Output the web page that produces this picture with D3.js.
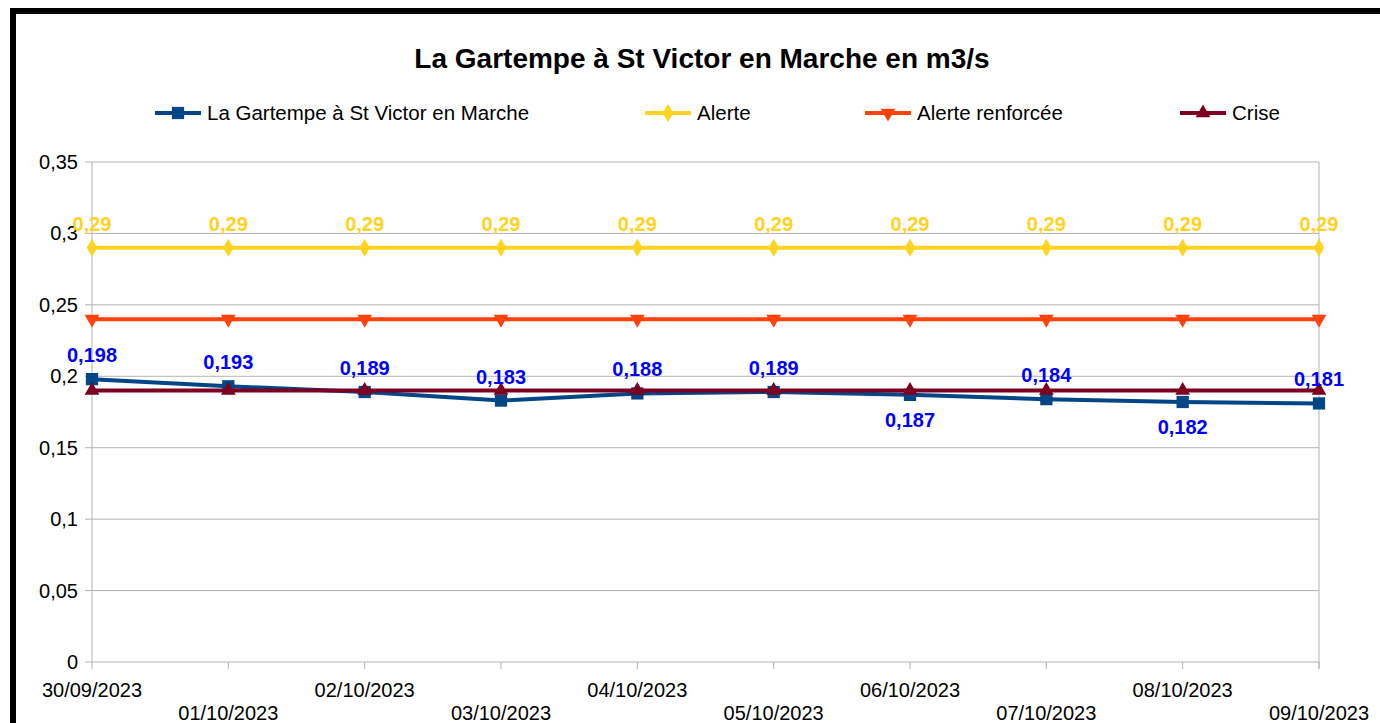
<!DOCTYPE html>
<html>
<head>
<meta charset="utf-8">
<script src="https://cdn.jsdelivr.net/npm/d3@7"></script>
<style>
  body { margin: 0; background: #fff; }
  text { font-family: "Liberation Sans", Arial, sans-serif; }
</style>
</head>
<body>
<div id="chart"></div>
<script>
// chart size
const width = 1380;
const height = 723;

// data
const dates = ["30/09/2023", "01/10/2023", "02/10/2023", "03/10/2023", "04/10/2023",
               "05/10/2023", "06/10/2023", "07/10/2023", "08/10/2023", "09/10/2023"];
const gartempe = [0.198, 0.193, 0.189, 0.183, 0.188, 0.189, 0.187, 0.184, 0.182, 0.181];
const alerte = [0.29, 0.29, 0.29, 0.29, 0.29, 0.29, 0.29, 0.29, 0.29, 0.29];
const alerteRenf = [0.24, 0.24, 0.24, 0.24, 0.24, 0.24, 0.24, 0.24, 0.24, 0.24];
const crise = [0.19, 0.19, 0.19, 0.19, 0.19, 0.19, 0.19, 0.19, 0.19, 0.19];
const yTicks = [0, 0.05, 0.1, 0.15, 0.2, 0.25, 0.3, 0.35];
// which Gartempe labels sit under the point
const labelBelow = [false, false, false, false, false, false, true, false, true, false];

const series = [
  {name: "La Gartempe à St Victor en Marche", values: gartempe, color: "#004586", symbol: d3.symbolSquare, size: 150, rot: 0, labels: true, labelColor: "#0000ff"},
  {name: "Alerte", values: alerte, color: "#ffd320", symbol: d3.symbolDiamond, size: 95, rot: 0, labels: true, labelColor: "#ffd320"},
  {name: "Alerte renforcée", values: alerteRenf, color: "#ff420e", symbol: d3.symbolTriangle, size: 95, rot: 180, labels: false},
  {name: "Crise", values: crise, color: "#7e0021", symbol: d3.symbolTriangle, size: 95, rot: 0, labels: false}
];

const plotL = 92, plotR = 1319, plotT = 162, plotB = 662;

const x = d3.scalePoint().domain(dates).range([plotL, plotR]);
const y = d3.scaleLinear().domain([0, 0.35]).range([plotB, plotT]);
const fmt = v => String(v).replace(".", ",");

let svg = d3.select("#chart").append("svg")
            .attr("width", width)
            .attr("height", height)

// outer black frame (runs off the right and bottom edges)
svg.append("rect")
   .attr("x", 13).attr("y", 11)
   .attr("width", 1420).attr("height", 800)
   .attr("fill", "none")
   .attr("stroke", "black")
   .attr("stroke-width", 6)

// title
svg.append("text")
   .attr("x", 702).attr("y", 68)
   .attr("text-anchor", "middle")
   .style("font-size", "28px")
   .style("font-weight", "bold")
   .text("La Gartempe à St Victor en Marche en m3/s")

// horizontal gridlines
svg.append("g")
   .selectAll("line")
   .data(yTicks)
   .join("line")
   .attr("x1", plotL - 7).attr("x2", plotR)
   .attr("y1", d => y(d)).attr("y2", d => y(d))
   .attr("stroke", "#b3b3b3")
   .attr("stroke-width", 1)

// left and right plot edges
svg.append("line").attr("x1", plotL).attr("x2", plotL).attr("y1", plotT).attr("y2", plotB)
   .attr("stroke", "#b3b3b3")
svg.append("line").attr("x1", plotR).attr("x2", plotR).attr("y1", plotT).attr("y2", plotB + 7)
   .attr("stroke", "#b3b3b3")

// y labels
svg.append("g")
   .selectAll("text")
   .data(yTicks)
   .join("text")
   .attr("x", plotL - 14)
   .attr("y", d => y(d) + 7)
   .attr("text-anchor", "end")
   .style("font-size", "20px")
   .text(d => fmt(d))

// x ticks and labels, alternating rows
let xg = svg.append("g");
xg.selectAll("line")
  .data(dates)
  .join("line")
  .attr("x1", d => x(d)).attr("x2", d => x(d))
  .attr("y1", plotB).attr("y2", plotB + 7)
  .attr("stroke", "#b3b3b3")
xg.selectAll("text")
  .data(dates)
  .join("text")
  .attr("x", d => x(d))
  .attr("y", (d, i) => i % 2 === 0 ? 697 : 720)
  .attr("text-anchor", "middle")
  .style("font-size", "20px")
  .text(d => d)

// lines and markers
const line = d3.line().x((d, i) => x(dates[i])).y(d => y(d));

series.forEach(s => {
  let g = svg.append("g");
  g.append("path")
   .attr("d", line(s.values))
   .attr("fill", "none")
   .attr("stroke", s.color)
   .attr("stroke-width", 4)
  g.selectAll("path.m")
   .data(s.values)
   .join("path")
   .attr("class", "m")
   .attr("d", d3.symbol().type(s.symbol).size(s.size))
   .attr("transform", (d, i) => "translate(" + x(dates[i]) + "," + y(d) + ") rotate(" + s.rot + ")")
   .attr("fill", s.color)
});

// data labels on top
series.filter(s => s.labels).forEach(s => {
  svg.append("g")
     .selectAll("text")
     .data(s.values)
     .join("text")
     .attr("x", (d, i) => x(dates[i]))
     .attr("y", (d, i) => s.values === gartempe && labelBelow[i] ? y(d) + 32 : y(d) - 17)
     .attr("text-anchor", "middle")
     .style("font-size", "20px")
     .style("font-weight", "bold")
     .attr("fill", s.labelColor)
     .text(d => fmt(d))
});

// legend
const legendX = [155, 645, 865, 1180];
let leg = svg.append("g")
             .selectAll("g")
             .data(series)
             .join("g")
             .attr("transform", (d, i) => "translate(" + legendX[i] + ",113)")
leg.append("line")
   .attr("x1", 0).attr("x2", 46)
   .attr("stroke", d => d.color)
   .attr("stroke-width", 4)
leg.append("path")
   .attr("d", d => d3.symbol().type(d.symbol).size(d.size)())
   .attr("transform", d => "translate(23,0) rotate(" + d.rot + ")")
   .attr("fill", d => d.color)
leg.append("text")
   .attr("x", 52).attr("y", 7)
   .style("font-size", "20.5px")
   .text(d => d.name)
</script>
</body>
</html>
